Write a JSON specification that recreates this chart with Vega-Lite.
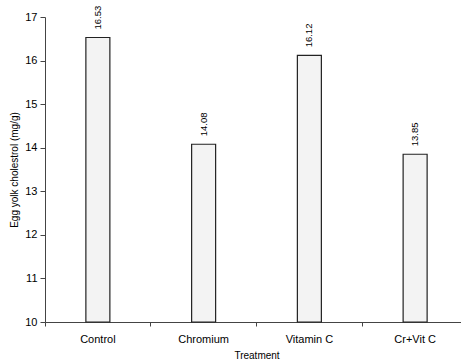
{
  "$schema": "https://vega.github.io/schema/vega-lite/v6.json",
  "autosize": {"type": "none"},
  "width": 416,
  "height": 305,
  "padding": {"left": 45, "top": 17, "right": 0, "bottom": 38},
  "background": "white",
  "config": {
    "view": {"stroke": null},
    "font": "Liberation Sans",
    "axis": {"grid": false, "domainColor": "#444", "tickColor": "#444", "labelColor": "#000", "titleColor": "#000", "titleFontWeight": "normal"}
  },
  "data": {"values": [
    {"Treatment": "Control", "value": 16.53},
    {"Treatment": "Chromium", "value": 14.08},
    {"Treatment": "Vitamin C", "value": 16.12},
    {"Treatment": "Cr+Vit C", "value": 13.85}
  ]},
  "encoding": {
    "x": {
      "field": "Treatment", "type": "nominal", "sort": null,
      "scale": {"range": [0, 423], "paddingInner": 0, "paddingOuter": 0},
      "axis": {"labelAngle": 0, "labelFontSize": 11, "titleFontSize": 10, "tickSize": 4, "bandPosition": 0, "labelPadding": 7, "titlePadding": 6}
    }
  },
  "layer": [
    {
      "mark": {"type": "bar", "size": 24, "fill": "#f3f3f3", "stroke": "#222", "strokeWidth": 1.2},
      "encoding": {
        "y": {"field": "value", "type": "quantitative", "scale": {"domain": [10, 17], "zero": false, "nice": false},
          "axis": {"values": [10, 11, 12, 13, 14, 15, 16, 17], "title": "Egg yolk cholestrol (mg/g)", "labelFontSize": 11, "titleFontSize": 10, "tickSize": 5, "labelPadding": 3, "titlePadding": 5}},
        "y2": {"datum": 10}
      }
    },
    {
      "mark": {"type": "text", "angle": 270, "align": "left", "baseline": "middle", "dx": 8, "fontSize": 9.5},
      "encoding": {
        "y": {"field": "value", "type": "quantitative"},
        "text": {"field": "value", "type": "quantitative", "format": ".2f"}
      }
    }
  ]
}
